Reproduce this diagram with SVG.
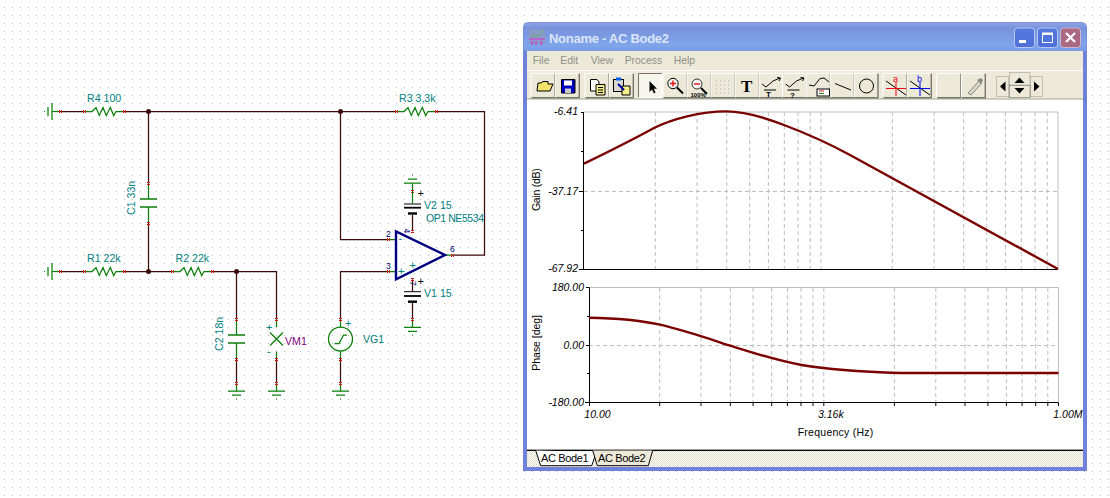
<svg xmlns="http://www.w3.org/2000/svg" width="1110" height="498" viewBox="0 0 1110 498">
<style>
text{font-family:"Liberation Sans",Arial,sans-serif}
.w{fill:none;stroke:#3c0a0a;stroke-width:1.25}
.g{fill:none;stroke:#0a800a;stroke-width:1.25}
.gt{fill:none;stroke:#0a800a;stroke-width:2}
.r{stroke:#e01010;stroke-width:1;fill:none;shape-rendering:crispEdges}
.t{fill:#008080;font-size:10.6px}
.np{fill:#000070;font-size:8.5px}
.grid{fill:none;stroke:#bdbdbd;stroke-width:1;stroke-dasharray:4 3}
.fr{fill:none;stroke:#bdbdbd;stroke-width:1}
.ax{fill:none;stroke:#000;stroke-width:1}
.cv{fill:none;stroke:#7a0000;stroke-width:2.4;stroke-linejoin:round}
.n{font-size:10.5px;font-style:italic;fill:#000}
.l{font-size:10.5px;fill:#000}
.m{font-size:10.4px;fill:#8f8f86}
.ic{fill:none;stroke:#000;stroke-width:1}
.tab{font-size:11px;fill:#000}
</style>
<defs>
<pattern id="dots" width="8" height="8" patternUnits="userSpaceOnUse"><rect x="4" y="7" width="1" height="1" fill="#b8b8b8"/></pattern>
<pattern id="dith" width="2" height="2" patternUnits="userSpaceOnUse"><rect width="2" height="2" fill="#fff"/><rect width="1" height="1" fill="#dedbc8"/><rect x="1" y="1" width="1" height="1" fill="#dedbc8"/></pattern>
<linearGradient id="title" x1="0" y1="0" x2="0" y2="1"><stop offset="0" stop-color="#8ea4e6"/><stop offset=".2" stop-color="#7892dc"/><stop offset=".8" stop-color="#7fa5ea"/><stop offset="1" stop-color="#7a9ae2"/></linearGradient>
<linearGradient id="wb" x1="0" y1="0" x2="0" y2="1"><stop offset="0" stop-color="#5278e0"/><stop offset="1" stop-color="#4f6fd8"/></linearGradient>
<g id="pinH"><path class="r" d="M-1 -1.5V1.5M1 -1.5V1.5"/></g>
<g id="pinV"><path class="r" d="M-1.5 -1H1.5M-1.5 1H1.5"/></g>
<g id="res"><path class="g" d="M0 0H8L12 -4L15.3 4L19 -4L22.3 4L26.3 -4L29.7 4L32 0H40"/><use href="#pinH"/><use href="#pinH" x="40"/></g>
<g id="cap"><path class="g" d="M0 0V16M0 24V40"/><path class="gt" d="M-8.5 16H8.5M-8.5 24H8.5" style="stroke-width:1.4"/><use href="#pinV"/><use href="#pinV" y="40"/></g>
<g id="gnd"><path class="g" d="M0 0V8M-8.5 8H8.5M-4.5 12H4.5"/><rect x="-.5" y="15.5" width="1" height="1" fill="#0a800a"/><use href="#pinV"/></g>
<g id="gndL"><path class="g" d="M0 0H-8"/><path class="g" d="M-8 -8.5V8.5M-12 -4.5V4.5"/><rect x="-16" y="-.5" width="1" height="1" fill="#0a800a"/><use href="#pinH"/></g>
<g id="btn"><rect width="24" height="24.5" fill="#ece9d8"/><path d="M0 24V0H23" fill="none" stroke="#fff"/><path d="M.5 24.5H24V.5" fill="none" stroke="#77756a" stroke-width="1.4"/></g>
</defs>
<rect width="1110" height="498" fill="#fff"/>
<rect width="1110" height="498" fill="url(#dots)"/>

<g id="connectors">
<path class="w" d="M60 111.5H84M124 111.5H396M436 111.5H484.5V255H452.5"/>
<path class="w" d="M148.5 111.5V183M148.5 223V271.5"/>
<path class="w" d="M60 271.5H84M124 271.5H172M212 271.5H276.5V319"/>
<path class="w" d="M236.5 271.5V319M236.5 359V383M276.5 359V383"/>
<path class="w" d="M340.5 111.5V239.5H388M388 271.5H340.5V319M340.5 359V383"/>
<path class="w" d="M412.5 215V231M412.5 279.5V291M412.5 303V319"/>
</g>
<g id="junctions" fill="#3c0a0a">
<circle cx="148.5" cy="111.5" r="2.5"/><circle cx="148.5" cy="271.5" r="2.5"/><circle cx="236.5" cy="271.5" r="2.5"/><circle cx="340.5" cy="111.5" r="2.5"/>
</g>
<g id="GND1"><use href="#gndL" x="60" y="111.5"/></g>
<g id="GND2"><use href="#gndL" x="60" y="271.5"/></g>
<g id="R4"><use href="#res" x="84" y="111.5"/><text class="t" x="87" y="101.5">R4 100</text></g>
<g id="R1"><use href="#res" x="84" y="271.5"/><text class="t" x="87" y="261.5">R1 22k</text></g>
<g id="R2"><use href="#res" x="172" y="271.5"/><text class="t" x="175.5" y="261.5">R2 22k</text></g>
<g id="R3"><use href="#res" x="396" y="111.5"/><text class="t" x="399" y="101.5">R3 3,3k</text></g>
<g id="C1"><use href="#cap" x="148.5" y="183"/><text class="t" transform="translate(135.3 215) rotate(-90)">C1 33n</text></g>
<g id="C2"><use href="#cap" x="236.5" y="319"/><text class="t" transform="translate(223.3 351) rotate(-90)">C2 18n</text><use href="#pinV" x="236.5" y="383"/><use href="#gnd" x="236.5" y="383"/></g>
<g id="VM1">
<path class="g" d="M276.5 319V327M276.5 351.5V359M270 332.5L283 345.5M283 332.5L270 345.5"/>
<use href="#pinV" x="276.5" y="319"/><use href="#pinV" x="276.5" y="359"/><use href="#gnd" x="276.5" y="383"/>
<text class="t" x="266" y="331" style="font-size:11px">+</text><text class="t" x="267" y="355" style="font-size:11px">-</text>
<text x="285" y="345" style="font-size:10.6px" fill="#800080">VM1</text>
</g>
<g id="VG1">
<path class="g" d="M340.5 319V327M340.5 351V359M334.5 343.5H339L343.5 335H347"/>
<circle class="g" cx="340.5" cy="339" r="12"/>
<use href="#pinV" x="340.5" y="319"/><use href="#pinV" x="340.5" y="359"/><use href="#gnd" x="340.5" y="383"/>
<text class="t" x="345" y="327" style="font-size:11px">+</text>
<text class="t" x="363" y="343">VG1</text>
</g>
<g id="OP1">
<path class="g" d="M388 239.5H396M388 271.5H396M445 255H452.5"/>
<use href="#pinH" x="388" y="239.5"/><use href="#pinH" x="388" y="271.5"/><use href="#pinH" x="452.5" y="255"/>
<use href="#pinV" x="412.5" y="231"/><use href="#pinV" x="412.5" y="279.5"/>
<path d="M396 231.5V279.3L445 255Z" fill="none" stroke="#000080" stroke-width="2.4"/>
<text class="np" x="386" y="236.5">2</text><text class="np" x="386" y="268.5">3</text><text class="np" x="450" y="252">6</text>
<text class="np" transform="translate(404 228.5) rotate(90)">4</text><text class="np" transform="translate(409.5 281) rotate(90)">7</text>
<text class="t" x="398.5" y="242" style="font-size:11px">-</text><text class="t" x="398" y="275" style="font-size:11px">+</text><text class="t" x="409.5" y="269" style="font-size:11px">+</text>
<text class="t" x="426" y="221.7" style="font-size:10.5px" textLength="58">OP1 NE5534</text>
</g>
<g id="V2">
<use href="#gnd" transform="translate(412.5 191) scale(1 -1)"/>
<path class="g" d="M412.5 191V203.5"/>
<path d="M404 204H421" stroke="#000" stroke-width="1"/><path d="M404 207.7H421" stroke="#000" stroke-width="1.8"/><path d="M408 213.5H417" stroke="#000" stroke-width="2.4"/>
<text x="417.5" y="197" style="font-size:11px" fill="#000">+</text>
<text class="t" x="424" y="209">V2 15</text>
</g>
<g id="V1">
<path d="M404 291.7H421" stroke="#000" stroke-width="1"/><path d="M404 296H421" stroke="#000" stroke-width="1.8"/><path d="M408 301.7H417" stroke="#000" stroke-width="2.4"/>
<use href="#gnd" x="412.5" y="319.3"/>
<text x="417.5" y="285" style="font-size:11px" fill="#000">+</text>
<text class="t" x="424" y="297">V1 15</text>
</g>

<g id="window">
<path d="M523 471V28Q523 22 529 22H1081Q1087 22 1087 28V471Z" fill="#6f82da"/>
<path d="M523.5 51V28Q523.5 22.5 529 22.5H1081Q1086.5 22.5 1086.5 28V51Z" fill="url(#title)"/>
<rect x="527" y="51" width="556" height="48" fill="#ece9d8"/>
<rect x="527" y="70" width="556" height="1" fill="#fff"/>
<rect x="527" y="99" width="556" height="351" fill="#fff"/>
<rect x="527" y="98.5" width="556" height="1" fill="#a5a396"/>
<rect x="527" y="450" width="556" height="17" fill="url(#dith)"/>
<rect x="527" y="449" width="556" height="1" fill="#a0a0a0"/>
<rect x="527" y="450" width="556" height="1" fill="#000"/>
<g id="appicon">
<rect x="529" y="29" width="16" height="15" fill="#8a9ac8"/>
<path d="M530 37L535 35L538 36L544 30" fill="none" stroke="#40c040" stroke-dasharray="2 1"/>
<path d="M529 39H545M532 41V45M536 41V45M541 41V45" fill="none" stroke="#e030d0" stroke-width="1.2"/>
</g>
<text x="549" y="43" style="font-size:13px;font-weight:bold" fill="#dbe5fa" textLength="120">Noname - AC Bode2</text>
<g id="winbtns">
<rect x="1014.5" y="28" width="20" height="19.5" rx="3" fill="url(#wb)" stroke="#b8c8f0"/>
<rect x="1019" y="40" width="7" height="3" fill="#fff"/>
<rect x="1037.5" y="28" width="20" height="19.5" rx="3" fill="url(#wb)" stroke="#b8c8f0"/>
<rect x="1042.5" y="33" width="10" height="9.5" fill="none" stroke="#fff"/><rect x="1042.5" y="33" width="10" height="2" fill="#fff"/>
<rect x="1060.5" y="28" width="20" height="19.5" rx="3" fill="#ab6a82" stroke="#c8b8d0"/>
<path d="M1066 33L1075 42M1075 33L1066 42" stroke="#fff" stroke-width="2.2"/>
</g>
<text class="m" x="532.7" y="64">File</text><text class="m" x="560.3" y="64">Edit</text><text class="m" x="590.7" y="64">View</text><text class="m" x="624.7" y="64">Process</text><text class="m" x="673.7" y="64">Help</text>
<g id="toolbar">
<use href="#btn" x="531" y="73.3"/><use href="#btn" x="555.3" y="73.3"/><use href="#btn" x="585" y="73.3"/><use href="#btn" x="609.3" y="73.3"/>
<rect x="638.3" y="73.3" width="24" height="24.5" fill="#f6f5ee"/><path d="M638.5 97.5V73.5H662" fill="none" stroke="#77756a"/><path d="M638.5 97.5H662V73.5" fill="none" stroke="#fff"/>
<use href="#btn" x="663" y="73.3"/><use href="#btn" x="687" y="73.3"/><use href="#btn" x="711" y="73.3"/><use href="#btn" x="735" y="73.3"/><use href="#btn" x="759" y="73.3"/><use href="#btn" x="782.5" y="73.3"/><use href="#btn" x="806" y="73.3"/><use href="#btn" x="830" y="73.3"/><use href="#btn" x="854" y="73.3"/>
<use href="#btn" x="883" y="73.3"/><use href="#btn" x="907.3" y="73.3"/><use href="#btn" x="936.7" y="73.3"/><use href="#btn" x="961.3" y="73.3"/>
<rect x="996.7" y="76.7" width="12" height="20" fill="#ece9d8" stroke="#a5a396" stroke-width=".6"/><rect x="1030.5" y="76.7" width="12" height="20" fill="#ece9d8" stroke="#a5a396" stroke-width=".6"/>
<rect x="1009.3" y="72.3" width="20.7" height="12.7" fill="#ece9d8" stroke="#a5a396" stroke-width=".6"/><rect x="1009.3" y="85.5" width="20.7" height="12.2" fill="#ece9d8" stroke="#77756a" stroke-width=".6"/>
<path d="M1005.5 81.5V91.5L1000 86.5ZM1034 81.5V91.5L1039.5 86.5ZM1014.5 83L1019.5 77.5L1024.5 83ZM1014.5 88L1024.5 88L1019.5 93.5Z" fill="#000"/>
<path d="M537 91L538 83H541L543 81.5H548V84H553L550 91Z" fill="#f2e36a" stroke="#000"/>
<path d="M561.5 79.5H575V93H561.5Z" fill="#0000c0" stroke="#000"/><rect x="564" y="80.5" width="8" height="5" fill="#fff"/><rect x="565" y="88.5" width="6" height="4.5" fill="#c8c8c8"/>
<path d="M590.5 79.5H597L599 82V91H590.5Z" fill="#fff" stroke="#000"/><path d="M596 84.5H605V95H596Z" fill="#f4ee8a" stroke="#000"/><path d="M598 87.5H603M598 90H603M598 92.5H603" stroke="#000"/>
<rect x="613.5" y="79.5" width="10" height="12" fill="#d8d8d0" stroke="#000"/><rect x="616" y="77.5" width="5" height="3" fill="#0060f0"/><path d="M622 86H630V95H622Z" fill="#f4ee8a" stroke="#000"/><path d="M618 84L624 90" stroke="#0000a0" stroke-width="2"/>
<path d="M649.5 81V92L652 89.5L654 93.5L655.5 92.5L653.8 88.8H657Z" fill="#000"/>
<circle cx="673" cy="83.5" r="5.2" fill="#f4f4f4" stroke="#000"/><path d="M670 83.5H676M673 80.5V86.5" stroke="#e01010" stroke-width="1.4"/><path d="M677 87.5L683 93.5" stroke="#000" stroke-width="2"/>
<circle cx="697" cy="84" r="5" fill="#f4f4f4" stroke="#333"/><path d="M694 84H700" stroke="#e01010" stroke-width="1.4"/><path d="M701 88L707 94" stroke="#000" stroke-width="2"/>
<text x="690.5" y="97" style="font-size:6px;font-weight:bold" fill="#000">100%</text>
<path d="M716 81H729M716 85H729M716 89H729M716 93H729" stroke="#aaa" stroke-dasharray="1 3"/>
<text x="741" y="92" style="font-size:17px;font-weight:bold;font-family:'Liberation Serif',serif" fill="#000">T</text>
<path class="ic" d="M762 84L766 87L773 81L780 78M777 77.5L780.5 78L779 81"/><path class="ic" d="M764 90H776"/><text x="766" y="97" style="font-size:8px;font-weight:bold" fill="#000">T</text>
<path class="ic" d="M785.5 84L789.5 87L796.5 81L803.5 78M800.5 77.5L804 78L802.5 81"/><path class="ic" d="M787.5 90H799.5"/><text x="790" y="97.5" style="font-size:8px;font-weight:bold" fill="#000">?</text>
<path class="ic" d="M809 85L814 86L820 78.5L824 78L829 82"/><rect x="817" y="89" width="12.5" height="7" fill="#fff" stroke="#000"/><path d="M819 91H824" stroke="#c02020"/><path d="M819 93.5H824" stroke="#108010"/>
<path class="ic" d="M835 83.5L851 90"/>
<circle class="ic" cx="866.5" cy="86" r="7"/>
<path class="ic" d="M886 81L906 95"/><path d="M886 88.5H906M896 82V96" stroke="#f00010" stroke-width="1"/><text x="893" y="82" style="font-size:9px" fill="#f00010">a</text>
<path class="ic" d="M910 81L930 95"/><path d="M910 88.5H930M920 82V96" stroke="#0000f0" stroke-width="1"/><text x="917" y="82" style="font-size:9px" fill="#0000f0">b</text>
<path d="M968 93L979 81L982 83L971 95Z" fill="#d8d6ca" stroke="#8a887c"/><path d="M977 80L981 78L983 80L981 84Z" fill="#8a887c"/>
</g>
<g id="tabs">
<path d="M535.7 450.5L540.7 465.7H591.7L596.5 452" fill="#fff" stroke="#000"/>
<path d="M592.7 450.5L597.3 465.7H648.3L652.7 450.5Z" fill="#ece9d8"/>
<path d="M592.7 450.5L597.3 465.7H648.3L652.7 450.5" fill="none" stroke="#000"/>
<text class="tab" x="541" y="461.7" textLength="47.7">AC Bode1</text>
<text class="tab" x="598" y="461.7" textLength="47.7">AC Bode2</text>
</g>
</g>

<g id="gain">
<path class="grid" d="M655.3 112V269M697.1 112V269M726.7 112V269M749.7 112V269M768.4 112V269M784.3 112V269M798 112V269M810.2 112V269M821 112V269M892.3 112V269M934.1 112V269M963.7 112V269M986.7 112V269M1005.4 112V269M1021.3 112V269M1035 112V269M1047.2 112V269M584 191.5H1058"/>
<path class="fr" d="M584 112H1058V269"/>
<path class="ax" d="M583.5 112V269M581 112.5H584M581 151.5H584M579 191.5H584M581 230.5H584M579 269.5H1058"/>
<path class="cv" d="M584 163.7C610 151 632 140 654 128C672 119 700 111.4 726.7 111.4C742 111.4 762 116.5 784 125C805 133 830 144 850 155L1058 269"/>
<text class="n" x="578" y="115" text-anchor="end">-6.41</text>
<text class="n" x="578" y="194.5" text-anchor="end">-37.17</text>
<text class="n" x="578" y="272" text-anchor="end">-67.92</text>
<text class="l" transform="translate(540.3 211) rotate(-90)" textLength="42.7">Gain (dB)</text>
</g>
<g id="phase">
<path class="grid" d="M659.7 288V402M701 288V402M730.3 288V402M753.1 288V402M771.7 288V402M787.4 288V402M801 288V402M813 288V402M823.8 288V402M894.4 288V402M935.8 288V402M965 288V402M987.9 288V402M1006.4 288V402M1022.1 288V402M1035.7 288V402M1047.8 288V402M589 345.5H1058"/>
<path class="fr" d="M589 287.5H1058.5V402"/>
<path class="ax" d="M589.5 287.5V402.5M586 287.5H589M587 316.5H589M586 345.5H589M587 373.5H589M585 402.5H1058.5"/>
<path class="ax" d="M589.5 402.5V406M659.7 402.5V406M701 402.5V406M730.3 402.5V406M753.1 402.5V406M771.7 402.5V406M787.4 402.5V406M801 402.5V406M813 402.5V406M823.8 402.5V406M894.4 402.5V406M935.8 402.5V406M965 402.5V406M987.9 402.5V406M1006.4 402.5V406M1022.1 402.5V406M1035.7 402.5V406M1047.8 402.5V406M1058.5 402.5V406"/>
<path class="cv" d="M589 317.7C610 318 635 319 660 324.7C685 330.5 708 338.5 730.3 345.7C755 353.5 778 361 801.7 365C825 369 850 371.5 900 373L1058.5 373"/>
<text class="n" x="584" y="291" text-anchor="end">180.00</text>
<text class="n" x="584" y="348.5" text-anchor="end">0.00</text>
<text class="n" x="584" y="405.7" text-anchor="end">-180.00</text>
<text class="l" transform="translate(540 370.7) rotate(-90)" textLength="55.7">Phase [deg]</text>
<text class="n" x="584.3" y="418">10.00</text>
<text class="n" x="818" y="418">3.16k</text>
<text class="n" x="1053.3" y="418">1.00M</text>
<text class="l" x="797.7" y="435.7" textLength="75.6">Frequency (Hz)</text>
</g>
</svg>
